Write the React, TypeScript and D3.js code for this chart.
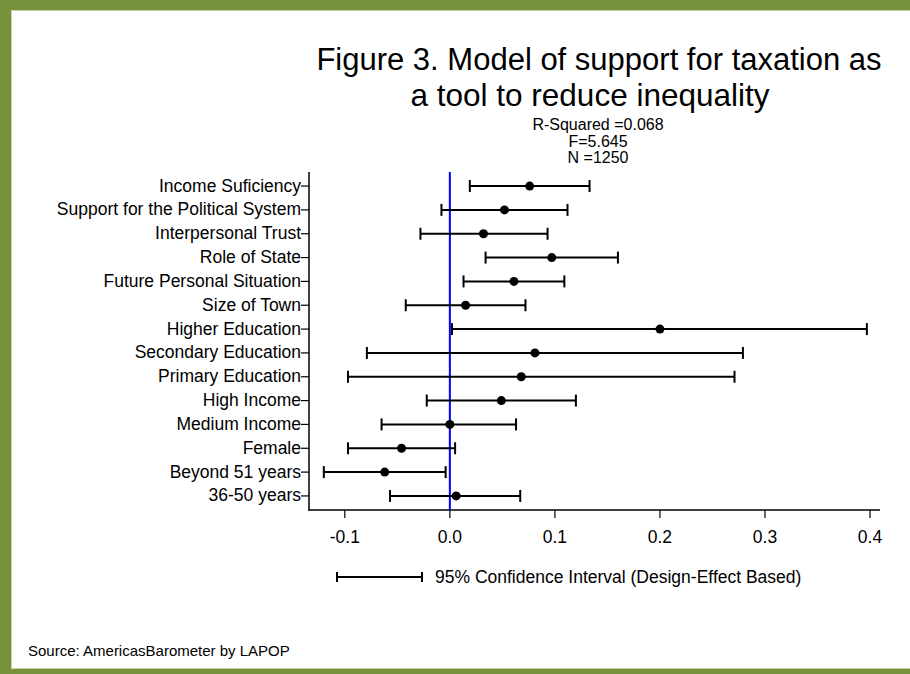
import React from "react";
import * as d3 from "d3";

const categories = [
  "Income Suficiency",
  "Support for the Political System",
  "Interpersonal Trust",
  "Role of State",
  "Future Personal Situation",
  "Size of Town",
  "Higher Education",
  "Secondary Education",
  "Primary Education",
  "High Income",
  "Medium Income",
  "Female",
  "Beyond 51 years",
  "36-50 years",
];
const estimates = [0.076, 0.052, 0.032, 0.097, 0.061, 0.015, 0.2, 0.081, 0.068, 0.049, 0.0, -0.046, -0.062, 0.006];
const lowerCI = [0.019, -0.008, -0.028, 0.034, 0.013, -0.042, 0.002, -0.079, -0.097, -0.022, -0.065, -0.097, -0.12, -0.057];
const upperCI = [0.133, 0.112, 0.093, 0.16, 0.109, 0.072, 0.397, 0.279, 0.271, 0.12, 0.063, 0.005, -0.004, 0.067];
const xTicks = [-0.1, 0.0, 0.1, 0.2, 0.3, 0.4];
const titleLines = ["Figure 3. Model of support for taxation as", "a tool to reduce inequality"];
const statsLines = ["R-Squared =0.068", "F=5.645", "N =1250"];
const legendLabel = "95% Confidence Interval (Design-Effect Based)";
const sourceText = "Source: AmericasBarometer by LAPOP";

const W = 910;
const H = 674;
const FONT = "'Liberation Sans', Arial, Helvetica, sans-serif";
const GREEN = "#76923c";

export default function App() {
  const plotLeft = 309;
  const plotRight = 880;
  const plotTop = 172;
  const plotBottom = 510;

  const x = d3.scaleLinear().domain([-0.1341, 0.4095]).range([plotLeft, plotRight]);
  const y = d3.scalePoint<string>().domain(categories).range([plotTop, plotBottom]).padding(0.59);

  const cap = 6;

  return (
    <svg
      width={W}
      height={H}
      style={{ position: "absolute", left: 0, top: 0, background: "#fff" }}
      fontFamily={FONT}
    >
      <rect x={0} y={0} width={W} height={H} fill="#fff" />
      {/* frame */}
      <rect x={0} y={0} width={W} height={10} fill={GREEN} />
      <rect x={0} y={0} width={11} height={H} fill={GREEN} />
      <rect x={0} y={669} width={W} height={5} fill={GREEN} />
      <line x1={11.5} y1={10.5} x2={W} y2={10.5} stroke="#c4d3a0" strokeWidth={1} />
      <line x1={11.5} y1={10.5} x2={11.5} y2={668.5} stroke="#c4d3a0" strokeWidth={1} />
      <line x1={11.5} y1={668.5} x2={W} y2={668.5} stroke="#c4d3a0" strokeWidth={1} />

      {/* title */}
      <text x={599} y={70} textAnchor="middle" fontSize={31} fill="#000">
        {titleLines[0]}
      </text>
      <text x={590} y={106} textAnchor="middle" fontSize={31.5} fill="#000">
        {titleLines[1]}
      </text>
      {statsLines.map((s, i) => (
        <text key={s} x={598} y={130 + i * 16.5} textAnchor="middle" fontSize={16} fill="#000">
          {s}
        </text>
      ))}

      {/* axes */}
      <line x1={plotLeft} y1={plotTop} x2={plotLeft} y2={plotBottom + 1} stroke="#000" strokeWidth={1.5} />
      <line x1={plotLeft} y1={plotBottom} x2={plotRight} y2={plotBottom} stroke="#000" strokeWidth={1.5} />
      {categories.map((c) => (
        <g key={c}>
          <line x1={plotLeft - 8} x2={plotLeft} y1={y(c)} y2={y(c)} stroke="#000" strokeWidth={1.2} />
          <text x={plotLeft - 8} y={(y(c) as number) + 5.5} textAnchor="end" fontSize={17.5} fill="#000">
            {c}
          </text>
        </g>
      ))}
      {xTicks.map((t) => (
        <g key={t}>
          <line x1={x(t)} x2={x(t)} y1={plotBottom} y2={plotBottom + 8} stroke="#000" strokeWidth={1.2} />
          <text x={x(t)} y={plotBottom + 33} textAnchor="middle" fontSize={17.5} fill="#000">
            {t.toFixed(1)}
          </text>
        </g>
      ))}

      {/* zero line */}
      <line x1={x(0)} x2={x(0)} y1={plotTop} y2={plotBottom} stroke="#0000ff" strokeWidth={2} />

      {/* error bars */}
      {categories.map((c, i) => {
        const yy = y(c) as number;
        return (
          <g key={c} stroke="#000" strokeWidth={2}>
            <line x1={x(lowerCI[i])} x2={x(upperCI[i])} y1={yy} y2={yy} />
            <line x1={x(lowerCI[i])} x2={x(lowerCI[i])} y1={yy - cap} y2={yy + cap} />
            <line x1={x(upperCI[i])} x2={x(upperCI[i])} y1={yy - cap} y2={yy + cap} />
            <circle cx={x(estimates[i])} cy={yy} r={4.5} fill="#000" stroke="none" />
          </g>
        );
      })}

      {/* legend */}
      <g stroke="#000" strokeWidth={2}>
        <line x1={337} x2={422} y1={577} y2={577} />
        <line x1={337} x2={337} y1={572} y2={582} />
        <line x1={422} x2={422} y1={572} y2={582} />
      </g>
      <text x={435} y={583} fontSize={17.5} fill="#000">
        {legendLabel}
      </text>

      {/* source */}
      <text x={28} y={656} fontSize={15} fill="#000">
        {sourceText}
      </text>
    </svg>
  );
}
